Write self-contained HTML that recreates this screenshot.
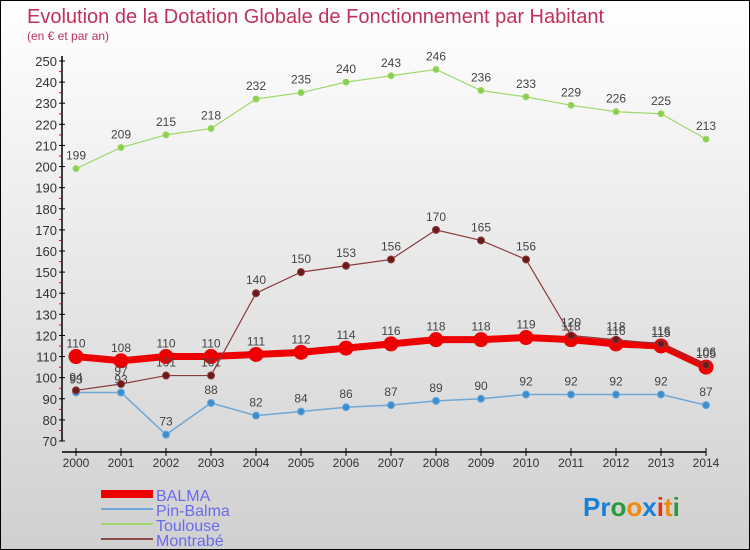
<!DOCTYPE html>
<html><head><meta charset="utf-8"><style>
html,body{margin:0;padding:0}
body{width:750px;height:550px;overflow:hidden;font-family:"Liberation Sans",sans-serif}
#wrap{position:relative;width:748px;height:548px;border:1px solid #000;background:linear-gradient(#ffffff,#d0d0d0)}
</style></head><body>
<div id="wrap">
<svg id="chart" width="748" height="548" style="position:absolute;left:0;top:0">
<text x="26" y="22" font-size="20" fill="#c0305a">Evolution de la Dotation Globale de Fonctionnement par Habitant</text>
<text x="26" y="39" font-size="12" fill="#c0305a">(en € et par an)</text>
<g id="axes"></g><g id="series"></g>
<g>
<line x1="100" y1="493" x2="152" y2="493" stroke="#ee0000" stroke-width="8"/>
<text x="155" y="500" font-size="16" fill="#6a6aee">BALMA</text>
<line x1="100" y1="508" x2="152" y2="508" stroke="#6fa8d6" stroke-width="2"/>
<text x="155" y="515" font-size="16" fill="#6a6aee">Pin-Balma</text>
<line x1="100" y1="523" x2="152" y2="523" stroke="#9ed86b" stroke-width="2"/>
<text x="155" y="530" font-size="16" fill="#6a6aee">Toulouse</text>
<line x1="100" y1="538" x2="152" y2="538" stroke="#8a4a4a" stroke-width="2"/>
<text x="155" y="545" font-size="16" fill="#6a6aee">Montrabé</text>
</g>
<text x="582" y="515" font-size="26" font-weight="bold"><tspan fill="#1a7fd6">Pr</tspan><tspan fill="#2a9a3a">o</tspan><tspan fill="#f08a10">o</tspan><tspan fill="#1a7fd6">x</tspan><tspan fill="#e83010">i</tspan><tspan fill="#f08a10">t</tspan><tspan fill="#2a9a3a">i</tspan></text>
</svg>
</div>
<script>
const years=[2000,2001,2002,2003,2004,2005,2006,2007,2008,2009,2010,2011,2012,2013,2014];
const balma=[110,108,110,110,111,112,114,116,118,118,119,118,116,115,105];
const pinBalma=[93,93,73,88,82,84,86,87,89,90,92,92,92,92,87];
const toulouse=[199,209,215,218,232,235,240,243,246,236,233,229,226,225,213];
const montrabe=[94,97,101,101,140,150,153,156,170,165,156,120,118,116,106];
const yTicks=[70,80,90,100,110,120,130,140,150,160,170,180,190,200,210,220,230,240,250];
const NS="http://www.w3.org/2000/svg";
const xS=i=>75+i*45;
const yS=v=>440-(v-70)*(380/180);
function mk(t,a,p){const e=document.createElementNS(NS,t);for(const k in a)e.setAttribute(k,a[k]);p.appendChild(e);return e;}
const ax=document.getElementById('axes');
let l=mk('line',{x1:61,y1:55,x2:61,y2:440,stroke:'#000','stroke-width':1.5},ax);


l=mk('line',{x1:61,y1:451,x2:705,y2:451,stroke:'#000','stroke-width':1.5},ax);


yTicks.forEach(v=>{const y=yS(v);
mk('line',{x1:58,y1:y,x2:64,y2:y,stroke:'#000'},ax);
if(v<250)mk('line',{x1:58,y1:y-10.5,x2:61,y2:y-10.5,stroke:'#e00'},ax);
const t=mk('text',{x:56,y:y+5,'font-size':13,fill:'#333','text-anchor':'end'},ax);t.textContent=v;

});
years.forEach((yr,i)=>{const x=xS(i);mk('line',{x1:x,y1:447,x2:x,y2:455,stroke:'#000'},ax);
const t=mk('text',{x:x,y:466,'font-size':12,fill:'#333','text-anchor':'middle'},ax);t.textContent=yr;

});
const sg=document.getElementById('series');
function draw(name,vals,col,w,r,mcol){const g=mk('g',{},sg);


const p=mk('polyline',{points:vals.map((v,i)=>xS(i)+','+yS(v)).join(' '),fill:'none',stroke:col,'stroke-width':w},g);


vals.forEach((v,i)=>{const c=mk('circle',{cx:xS(i),cy:yS(v),r:r,fill:mcol,stroke:col,'stroke-width':1},g);


const t=mk('text',{x:xS(i),y:yS(v)-9,'font-size':12,fill:'#444','text-anchor':'middle'},g);t.textContent=v;

});}
draw('toulouse',toulouse,'#9ed86b',1.2,3,'#8ccf4f');
draw('pin-balma',pinBalma,'#6fa8d6',1.5,3.5,'#3a8ed0');
draw('balma',balma,'#ee0000',7,7,'#ee0000');
draw('montrabe',montrabe,'#8a3a3a',1.2,3.5,'#6a1a1a');
</script>
</body></html>
